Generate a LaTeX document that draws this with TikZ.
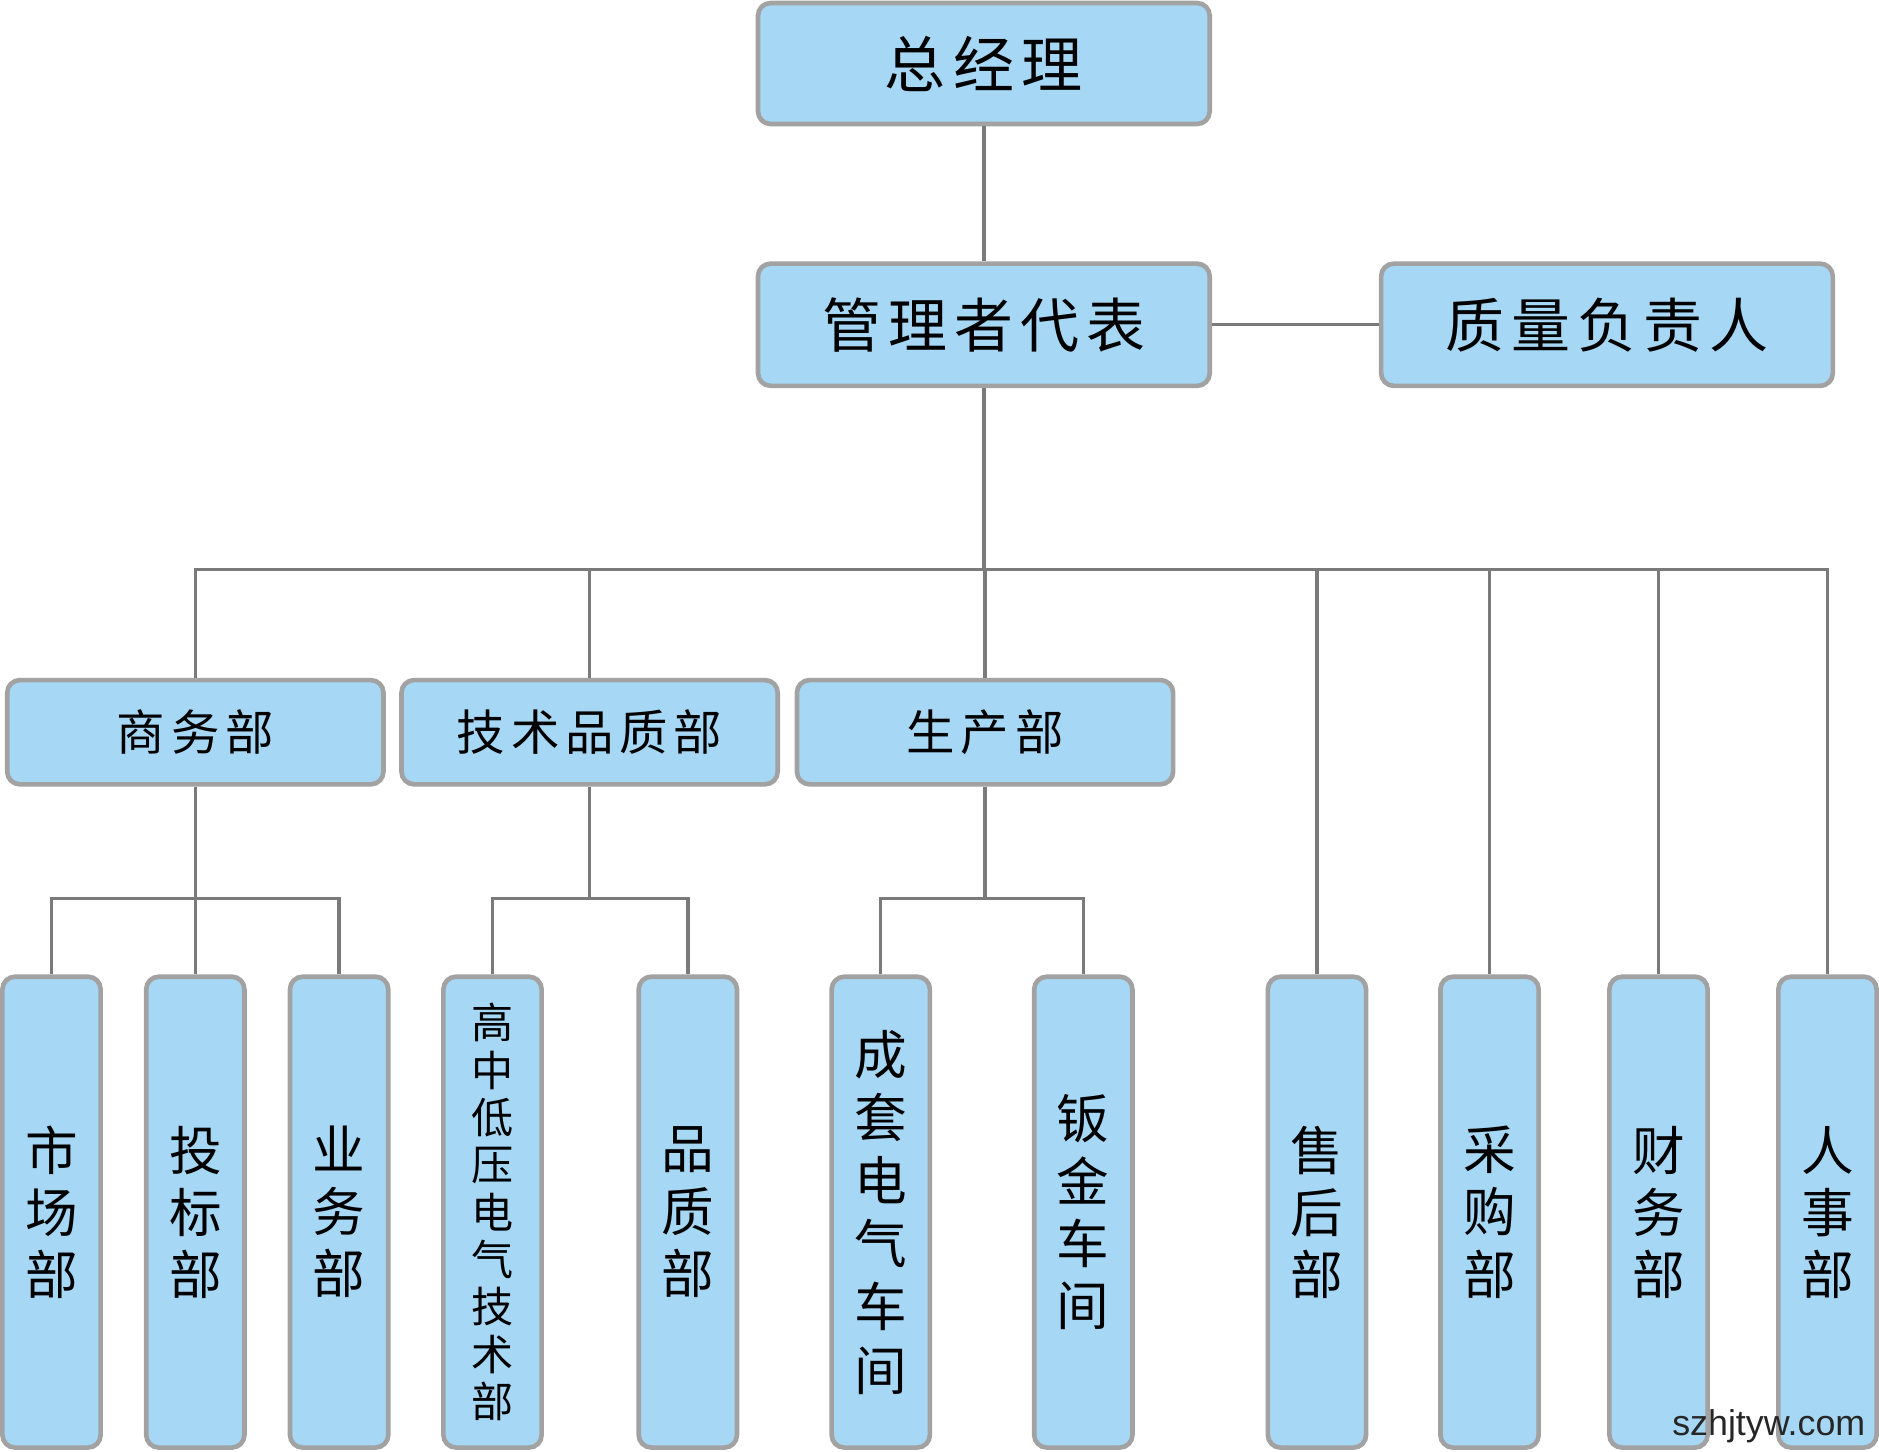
\documentclass[tikz,border=0pt]{standalone}
\usepackage{fontspec}
\newfontfamily\cjk{Noto Sans CJK SC}
\newfontfamily\cjkwide[LetterSpace=12]{Noto Sans CJK SC}
\setmainfont{Liberation Sans}
\begin{document}
\begin{tikzpicture}[x=0.02cm, y=-0.02cm]
  \tikzset{
    box/.style={draw=boxline, fill=boxfill, line width=2.2pt, rounded corners=6pt,
      inner sep=0pt},
    link/.style={draw=linkline, line width=1.6pt},
  }
  \definecolor{boxfill}{HTML}{A6D8F5}
  \definecolor{boxline}{HTML}{A2A2A2}
  \definecolor{linkline}{HTML}{7A7A7A}
  \useasboundingbox (0,0) rectangle (1568,1211);

  % top levels
  \node[box, minimum width=7.54cm, minimum height=2.02cm, font=\cjkwide\fontsize{29}{29}\selectfont] (gm) at (821,53) {总经理};
  \node[box, minimum width=7.54cm, minimum height=2.04cm, font=\cjkwide\fontsize{28}{28}\selectfont] (rep) at (821,271) {管理者代表};
  \node[box, minimum width=7.54cm, minimum height=2.04cm, font=\cjkwide\fontsize{28}{28}\selectfont] (qm) at (1341,271) {质量负责人};

  % departments
  \foreach \n/\x/\t in {bus/163/商务部, tech/492/技术品质部, prod/822/生产部}
    \node[box, minimum width=6.28cm, minimum height=1.74cm, font=\cjkwide\fontsize{23}{23}\selectfont] (\n) at (\x,611) {\t};

  % bottom column boxes
  \foreach \n/\x/\t in {mkt/43/市\\场\\部, bid/163/投\\标\\部, biz/283/业\\务\\部,
      qual/574/品\\质\\部, sheet/904/钣\\金\\车\\间, after/1099/售\\后\\部,
      buy/1243/采\\购\\部, fin/1384/财\\务\\部, hr/1525/人\\事\\部}
    \node[box, minimum width=1.64cm, minimum height=7.86cm, align=center,
      font=\cjk\fontsize{25}{29.5}\selectfont] (\n) at (\x,1011.5) {\t};
  \node[box, minimum width=1.64cm, minimum height=7.86cm, align=center,
    font=\cjk\fontsize{25}{30}\selectfont] (set) at (735,1011.5) {成\\套\\电\\气\\车\\间};
  \node[box, minimum width=1.64cm, minimum height=7.86cm, align=center,
    font=\cjk\fontsize{20}{22.5}\selectfont] (hv) at (411,1011.5) {高\\中\\低\\压\\电\\气\\技\\术\\部};

  % connectors
  \coordinate (j1) at (821,475);
  \draw[link] (gm) -- (rep);
  \draw[link] (rep) -- (qm);
  \draw[link] (rep) -- (j1);
  \draw[link] (bus.north) |- (j1) -| (hr.north);
  \foreach \n in {tech, prod}
    \draw[link] (\n.north) -- (\n.north |- j1);
  \foreach \n in {after, buy, fin}
    \draw[link] (\n.north) -- (\n.north |- j1);

  \coordinate (j2) at (163,750);
  \draw[link] (bus) -- (bid);
  \draw[link] (mkt.north) |- (j2) -| (biz.north);
  \coordinate (j3) at (492,750);
  \draw[link] (tech) -- (j3);
  \draw[link] (hv.north) |- (j3) -| (qual.north);
  \coordinate (j4) at (822,750);
  \draw[link] (prod) -- (j4);
  \draw[link] (set.north) |- (j4) -| (sheet.north);

  \node[font=\fontsize{17}{17}\selectfont, text=black!85] (mark) at (1476,1190) {szhjtyw.com};
\end{tikzpicture}
\end{document}
